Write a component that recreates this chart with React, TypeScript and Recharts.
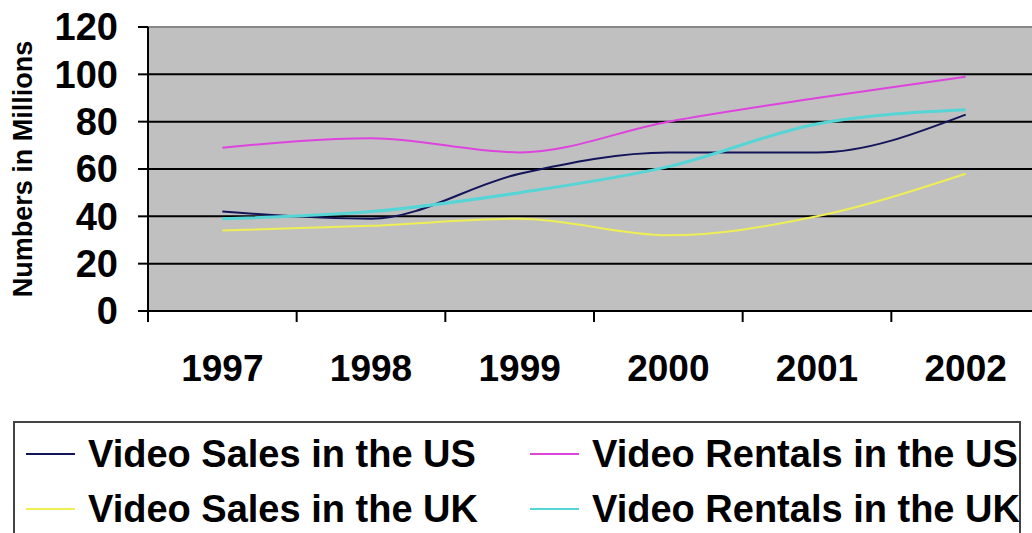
import React from 'react';
import {
  LineChart,
  Line,
  XAxis,
  YAxis,
  CartesianGrid,
  ReferenceLine,
  Legend,
} from 'recharts';

const years = ['1997', '1998', '1999', '2000', '2001', '2002'];
const salesUS = [42, 39, 58, 67, 67, 83];
const rentalsUS = [69, 73, 67, 80, 90, 99];
const salesUK = [34, 36, 39, 32, 40, 58];
const rentalsUK = [39, 42, 50, 61, 79, 85];
const yTicks = [0, 20, 40, 60, 80, 100, 120];
const legendOrder = [
  'Video Sales in the US',
  'Video Rentals in the US',
  'Video Sales in the UK',
  'Video Rentals in the UK',
];

const data = years.map((year, i) => ({
  year,
  salesUS: salesUS[i],
  rentalsUS: rentalsUS[i],
  salesUK: salesUK[i],
  rentalsUK: rentalsUK[i],
}));

const FONT = '"Liberation Sans", Arial, sans-serif';

// year label at the band centre, tick mark at the band's left edge (Excel style)
const YearTick = (props) => {
  const { x, y, payload } = props;
  const half = payload.offset || 0;
  return (
    <g>
      <line x1={x - half} x2={x - half} y1={y} y2={y + 11} stroke="#000" strokeWidth={2} />
      <text
        x={x}
        y={y + 70}
        textAnchor="middle"
        fontFamily={FONT}
        fontWeight="bold"
        fontSize={37}
        fill="#000"
      >
        {payload.value}
      </text>
    </g>
  );
};

const YTitle = (props) => {
  const { viewBox } = props;
  const x = viewBox.x + 23;
  const y = viewBox.y + viewBox.height / 2;
  return (
    <text
      x={x}
      y={y}
      transform={`rotate(-90, ${x}, ${y})`}
      textAnchor="middle"
      dominantBaseline="central"
      fontFamily={FONT}
      fontWeight="bold"
      fontSize={27}
      fill="#000"
    >
      Numbers in Millions
    </text>
  );
};

const renderLegend = ({ payload }) => {
  const items = legendOrder
    .map((name) => (payload || []).find((p) => p.value === name))
    .filter(Boolean);
  return (
    <div
      style={{
        position: 'relative',
        width: 1008,
        height: 120,
        border: '2px solid #444',
        boxSizing: 'border-box',
        background: '#fff',
        fontFamily: FONT,
        fontWeight: 'bold',
        fontSize: 38,
      }}
    >
      {items.map((entry, i) => (
        <div
          key={entry.value}
          style={{
            position: 'absolute',
            left: i % 2 === 0 ? 11 : 515,
            top: i < 2 ? 8 : 63,
            height: 46,
            display: 'flex',
            alignItems: 'center',
            whiteSpace: 'nowrap',
          }}
        >
          <span
            style={{
              display: 'inline-block',
              width: 49,
              height: 2,
              background: entry.color,
              marginRight: 13,
            }}
          />
          {entry.value}
        </div>
      ))}
    </div>
  );
};

export default function App() {
  return (
    <div
      style={{
        position: 'absolute',
        left: 0,
        top: 0,
        width: 1032,
        height: 533,
        overflow: 'hidden',
        background: '#fff',
      }}
    >
      <LineChart
        width={1050}
        height={533}
        data={data}
        margin={{ top: 27, right: 10, left: 0, bottom: 0 }}
      >
        <CartesianGrid
          vertical={false}
          fill="#C0C0C0"
          stroke="#000"
          strokeWidth={2}
          horizontalValues={[20, 40, 60, 80, 100]}
        />
        <ReferenceLine y={120} stroke="#888" strokeWidth={2} />
        <XAxis
          dataKey="year"
          scale="band"
          interval={0}
          axisLine={{ stroke: '#000', strokeWidth: 2 }}
          tickLine={false}
          tickSize={0}
          tickMargin={0}
          height={222}
          tick={<YearTick />}
        />
        <YAxis
          domain={[0, 120]}
          ticks={yTicks}
          interval={0}
          width={148}
          tickSize={10}
          tickMargin={20}
          axisLine={{ stroke: '#000', strokeWidth: 2 }}
          tickLine={{ stroke: '#000', strokeWidth: 2 }}
          tick={{ fill: '#000', fontFamily: FONT, fontWeight: 'bold', fontSize: 38 }}
          label={{ content: YTitle }}
        />
        <Legend
          layout="horizontal"
          verticalAlign="middle"
          align="center"
          content={renderLegend}
          wrapperStyle={{ position: 'absolute', left: 13, top: 421, width: 1008, height: 120 }}
        />
        <Line type="monotone" dataKey="salesUS" name="Video Sales in the US" stroke="#14145A" strokeWidth={2} dot={false} isAnimationActive={false} />
        <Line type="monotone" dataKey="rentalsUS" name="Video Rentals in the US" stroke="#DD44DD" strokeWidth={2} dot={false} isAnimationActive={false} />
        <Line type="monotone" dataKey="salesUK" name="Video Sales in the UK" stroke="#EEEE55" strokeWidth={2} dot={false} isAnimationActive={false} />
        <Line type="monotone" dataKey="rentalsUK" name="Video Rentals in the UK" stroke="#55D5D5" strokeWidth={3} dot={false} isAnimationActive={false} />
      </LineChart>
    </div>
  );
}
